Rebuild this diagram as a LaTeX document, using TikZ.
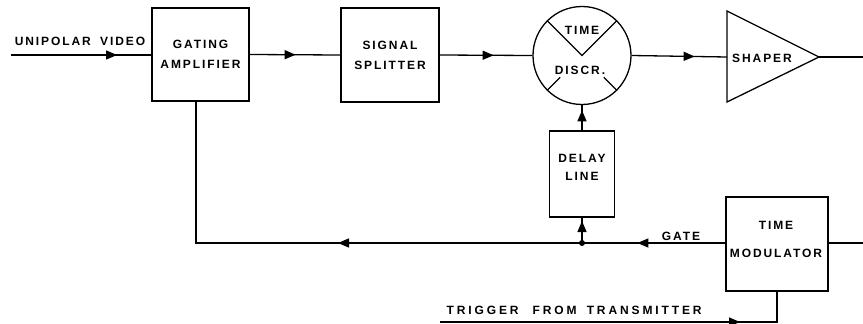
\documentclass[tikz,border=0pt]{standalone}
\usepackage{fontspec}
\setmainfont{Liberation Sans}[LetterSpace=16]
\usetikzlibrary{arrows.meta,decorations.markings,calc}

\begin{document}
\begin{tikzpicture}[x=1pt, y=-1pt, line width=1.3pt,
    txt/.style={font=\fontsize{12}{20}\selectfont\bfseries, align=center, inner sep=0pt},
    bloc/.style={draw, line width=1.3pt, inner sep=0pt, font=\fontsize{12}{20}\selectfont\bfseries, align=center},
    fl/.style={postaction={decorate}, decoration={markings,
        mark=at position #1 with {\arrow{Triangle[length=11pt,width=9pt]}}}}]
    \useasboundingbox (0,0) rectangle (863,324);

    % Blocs du haut
    \node[bloc, minimum width=97, minimum height=93] (GA) at (200.5,54.5) {GATING\\AMPLIFIER};
    \node[bloc, minimum width=98, minimum height=94] (SS) at (390,55) {SIGNAL\\SPLITTER};
    \node[draw, circle, minimum size=98, inner sep=0pt] (TD) at (582,55.5) {};
    \node[txt] (TDa) at (582,30) {TIME};
    \node[txt] (TDb) at (580,70) {DISCR.};
    \draw (TD.north west) -- (TD.center) -- (TD.north east);
    \draw (TD.south west) -- ($(TD.center)!0.62!(TD.south west)$);
    \draw (TD.south east) -- ($(TD.center)!0.62!(TD.south east)$);

    % Shaper
    \coordinate (SHin) at (727,57);
    \coordinate (SHout) at (819,57);
    \draw (727,11) -- (SHout) -- (727,102) -- cycle;
    \node[txt] (SHt) at (762,58) {SHAPER};

    % Blocs du bas
    \node[bloc, minimum width=65, minimum height=86] (DL) at (582,174) {};
    \node[txt] (DLt) at (582,167) {DELAY\\[-2pt]LINE};
    \node[bloc, minimum width=102, minimum height=94] (TM) at (777,244) {};
    \node[txt] (TMt) at (776,239) {TIME\\[8pt]MODULATOR};

    % Entree et sorties
    \coordinate (IN) at (11,55);
    \coordinate (OUTa) at (863,57);
    \coordinate (OUTb) at (863,243);
    \node[txt] (UV) at (80,41) {UNIPOLAR\hspace{4pt} VIDEO};

    % Ligne principale
    \draw[fl=106pt] (IN) -- (IN -| GA.west);
    \draw[fl=46pt] (GA.east) -- (SS.west);
    \draw[fl=54pt] (SS.east) -- (TD.west);
    \draw[fl=63pt] (TD.east) -- (SHin);
    \draw (SHout) -- (OUTa);

    % Boucle de retour
    \coordinate (J) at (582,243);
    \coordinate (C) at (196,243);
    \draw[fl=88pt] (TM.west |- J) -- (J);
    \draw[fl=244pt] (J) -- (C) -- (C |- GA.south);
    \draw[fl=22pt] (J) -- (DL.south);
    \draw[fl=20pt] (DL.north) -- (TD.south);
    \fill (J) circle (3pt);
    \node[txt] (GT) at (681,236) {GATE};
    \draw (TM.east |- OUTb) -- (OUTb);

    % Declenchement
    \coordinate (TR) at (440,322);
    \draw[fl=300pt] (TR) -- (TR -| TM.south) -- (TM.south);
    \node[txt, anchor=west] (TRt) at (446,310)
        {\addfontfeature{LetterSpace=24}TRIGGER\hspace{14pt}FROM\hspace{4pt} TRANSMITTER};
\end{tikzpicture}
\end{document}
